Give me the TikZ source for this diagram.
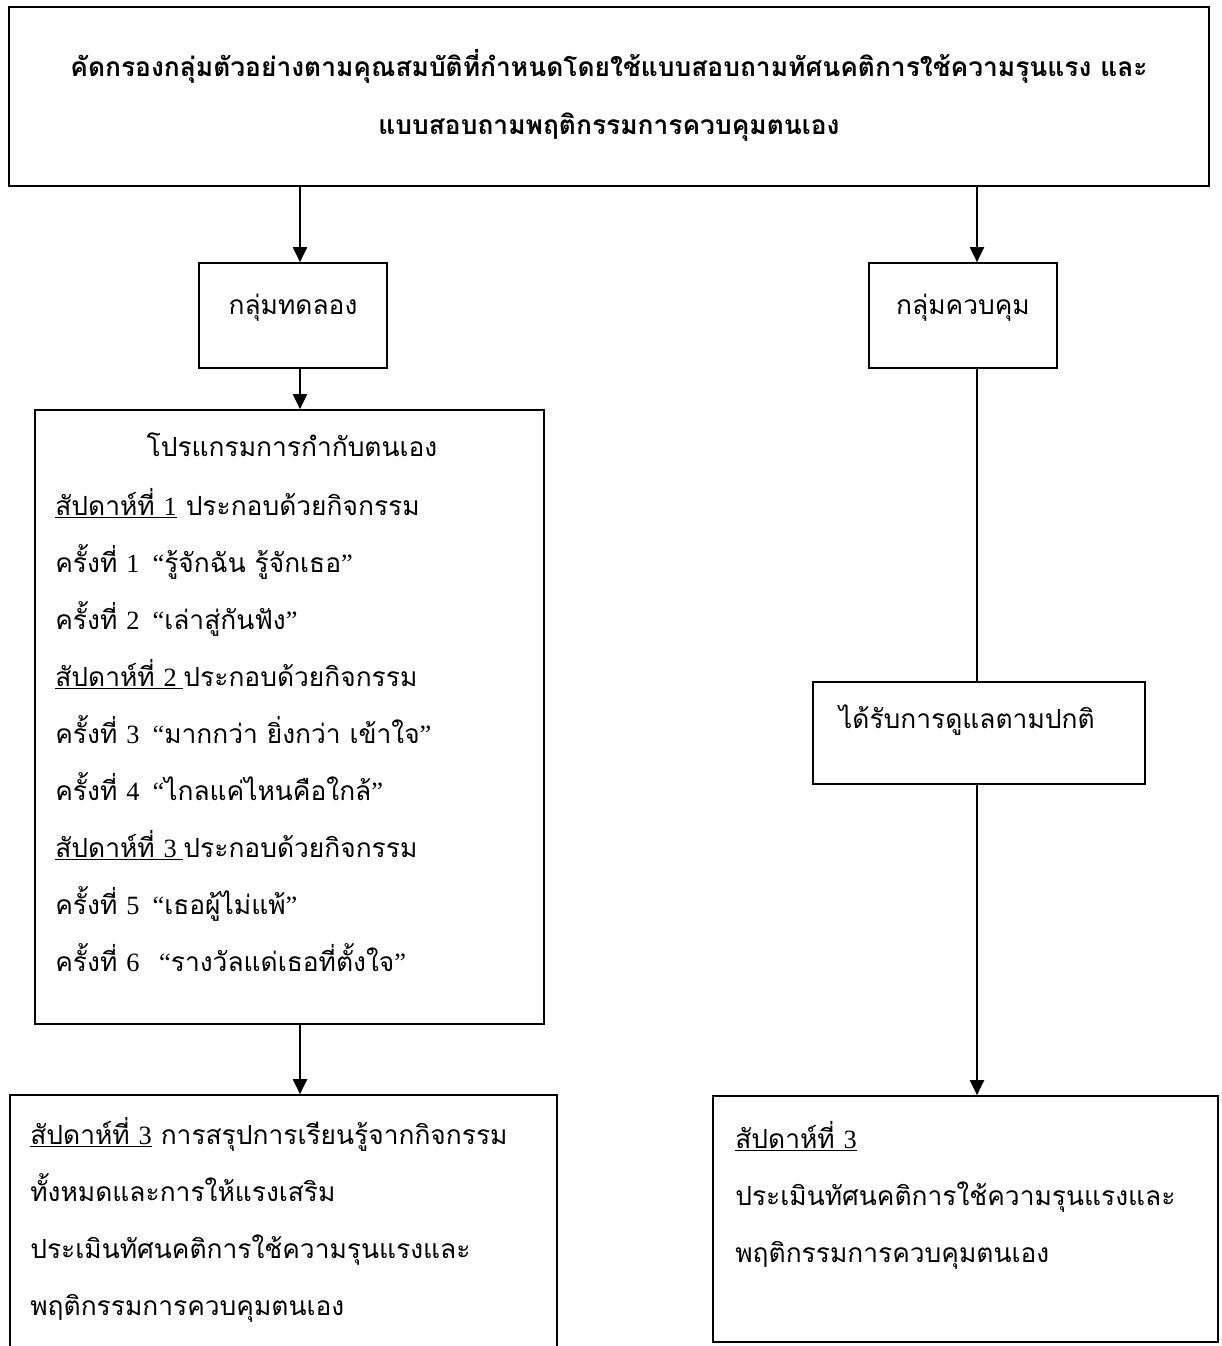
\documentclass[tikz,border=0pt]{standalone}
\usepackage{fontspec}
\setmainfont[Script=Thai]{Loma}
\newfontfamily\latfont{Liberation Serif}
\usetikzlibrary{fit,arrows.meta}
\tikzset{
  grpbox/.style={draw,line width=1pt,rectangle,inner sep=0pt},
  conn/.style={line width=1pt},
  arr/.style={conn,-{Triangle[length=8.5pt,width=8pt]}},
  rowtxt/.style={anchor=base west,inner sep=0pt}
}
\def\lat#1{{\latfont #1}}
\def\wk#1{\underline{สัปดาห์ที่ \lat{#1}}}

\begin{document}
\begin{tikzpicture}[x=0.02cm,y=-0.02cm,font=\fontsize{15}{32.4}\selectfont]
\useasboundingbox (0,0) rectangle (1221,1346);
\coordinate (lcol) at (300,0);
\coordinate (rcol) at (977,0);

\node[grpbox,fit={(9,7) (1209,186)}] (screen) {};
\node[align=center,font=\fontsize{15}{33}\selectfont\bfseries] (screentxt) at (609,95)
  {คัดกรองกลุ่มตัวอย่างตามคุณสมบัติที่กำหนดโดยใช้แบบสอบถามทัศนคติการใช้ความรุนแรง และ\\
   แบบสอบถามพฤติกรรมการควบคุมตนเอง};

\node[grpbox,fit={(199,263) (387,368)}] (exp) {};
\node (exptxt) at (293,308) {กลุ่มทดลอง};
\node[grpbox,fit={(869,263) (1057,368)}] (ctrl) {};
\node (ctrltxt) at (963,308) {กลุ่มควบคุม};

\node[grpbox,fit={(35,410) (544,1024)}] (prog) {};
\node[anchor=base] (progtitle) at (292,456) {โปรแกรมการกำกับตนเอง};
\foreach \row [count=\i] in {%
  {\wk{1} ประกอบด้วยกิจกรรม},
  {ครั้งที่ \lat{1 \ “}รู้จักฉัน รู้จักเธอ\lat{”}},
  {ครั้งที่ \lat{2 \ “}เล่าสู่กันฟัง\lat{”}},
  {\wk{2\ }ประกอบด้วยกิจกรรม},
  {ครั้งที่ \lat{3 \ “}มากกว่า ยิ่งกว่า เข้าใจ\lat{”}},
  {ครั้งที่ \lat{4 \ “}ไกลแค่ไหนคือใกล้\lat{”}},
  {\wk{3\ }ประกอบด้วยกิจกรรม},
  {ครั้งที่ \lat{5 \ “}เธอผู้ไม่แพ้\lat{”}},
  {ครั้งที่ \lat{6 \ \ “}รางวัลแด่เธอที่ตั้งใจ\lat{”}}}
  \node[rowtxt] (prog\i) at (55,{515+57*(\i-1)}) {\row};

\node[grpbox,fit={(813,682) (1145,784)}] (care) {};
\node[anchor=west] (caretxt) at (833,720) {ได้รับการดูแลตามปกติ};

\node[grpbox,fit={(10,1095) (557,1380)}] (sumL) {};
\foreach \row [count=\i] in {%
  {\wk{3} การสรุปการเรียนรู้จากกิจกรรม},
  {ทั้งหมดและการให้แรงเสริม},
  {ประเมินทัศนคติการใช้ความรุนแรงและ},
  {พฤติกรรมการควบคุมตนเอง}}
  \node[rowtxt] (sumL\i) at (30,{1144+57*(\i-1)}) {\row};

\node[grpbox,fit={(713,1096) (1218,1342)}] (sumR) {};
\foreach \row [count=\i] in {%
  {\wk{3}},
  {ประเมินทัศนคติการใช้ความรุนแรงและ},
  {พฤติกรรมการควบคุมตนเอง}}
  \node[rowtxt] (sumR\i) at (735,{1148+57*(\i-1)}) {\row};

\draw[arr] (screen.south -| lcol) -- (exp.north -| lcol);
\draw[arr] (exp.south -| lcol) -- (prog.north -| lcol);
\draw[arr] (prog.south -| lcol) -- (sumL.north -| lcol);
\draw[arr] (screen.south -| rcol) -- (ctrl.north -| rcol);
\draw[conn] (ctrl.south -| rcol) -- (care.north -| rcol);
\draw[arr] (care.south -| rcol) -- (sumR.north -| rcol);
\end{tikzpicture}
\end{document}
